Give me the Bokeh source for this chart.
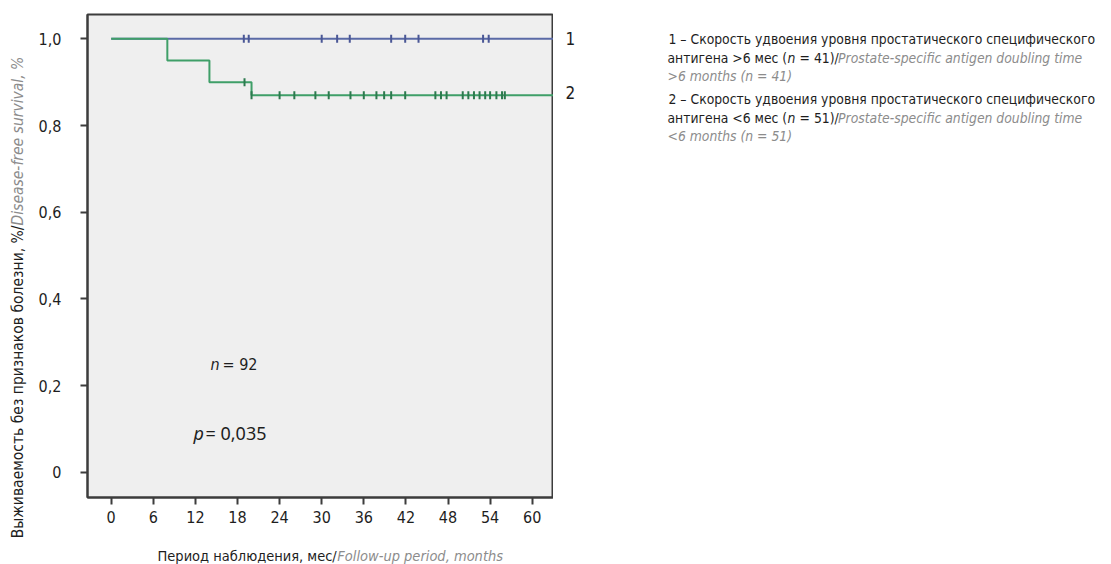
import numpy as np
from bokeh.plotting import figure
from bokeh.models import Range1d, FixedTicker, Label
from bokeh.layouts import row, column
from bokeh.embed import file_html
from bokeh.resources import INLINE

# ---------------- data ----------------
x_ticks = [0, 6, 12, 18, 24, 30, 36, 42, 48, 54, 60]
y_ticks = [0.0, 0.2, 0.4, 0.6, 0.8, 1.0]
y_tick_labels = ["0", "0,2", "0,4", "0,6", "0,8", "1,0"]

# group 1: PSA doubling time > 6 months (no events)
g1_times = [0, 64]
g1_surv = [1.0, 1.0]
g1_censor = [18.9, 19.6, 30.0, 32.2, 34.0, 39.9, 41.9, 43.8, 53.0, 53.8]

# group 2: PSA doubling time < 6 months
g2_times = [0, 8, 14, 20, 64]
g2_surv = [1.0, 0.95, 0.90, 0.87, 0.87]
g2_censor = [19.0, 20.0, 24.0, 26.1, 29.1, 31.0, 34.1, 36.0, 37.8, 38.9, 39.9,
             41.9, 46.2, 47.0, 47.8, 50.1, 50.9, 51.7, 52.5, 53.3, 54.0, 54.9,
             55.7, 56.1]

n_total = 92
p_value = "0,035"
n_groups = [41, 51]

# ---------------- layout ----------------
W, H = 1111, 564
YT_W = 32            # strip for rotated y title
L, R, T, B = 87, 553, 14, 497
MAIN_H = 535
x0_px, x60_px = 110.7, 531.7
y1_px, y0_px = 38.3, 471.8
kx = (x60_px - x0_px) / 60.0
ky = (y0_px - y1_px) / 1.0
xs, xe = (L - x0_px) / kx, (R - x0_px) / kx
ys, ye = (y0_px - B) / ky, (y0_px - T) / ky


def dx(px):
    return (px - x0_px) / kx


def dy(py):
    return (y0_px - py) / ky


FONT = "DejaVu Sans Condensed"
BLUE = "#5a6aa6"
GREEN = "#3f9f68"
GREEN_D = "#2c7a4e"
BLUE_D = "#4a5796"
GREY = "#8c8c8c"
BLACK = "#1e1e1e"

p = figure(width=R - YT_W, height=MAIN_H, x_range=Range1d(xs, xe),
           y_range=Range1d(ys, ye), title=None,
           output_backend="svg", toolbar_location=None,
           min_border_left=L - YT_W, min_border_right=0, min_border_top=T,
           min_border_bottom=MAIN_H - B,
           background_fill_color="#efefef", border_fill_color="white")
p.grid.visible = False
p.outline_line_color = "#3c3c3c"
p.outline_line_width = 2

for ax in (p.xaxis[0], p.yaxis[0]):
    ax.axis_line_color = "#3c3c3c"
    ax.axis_line_width = 2
    ax.major_tick_line_color = "#3c3c3c"
    ax.major_tick_line_width = 2
    ax.major_tick_in = 0
    ax.major_tick_out = 7
    ax.minor_tick_line_color = None
    ax.major_label_text_font = FONT
    ax.major_label_text_font_size = "16px"
    ax.major_label_text_color = BLACK

p.xaxis.ticker = FixedTicker(ticks=x_ticks)
p.xaxis.major_label_standoff = 6
p.yaxis.ticker = FixedTicker(ticks=y_ticks)
p.yaxis.major_label_overrides = {t: s for t, s in zip(y_ticks, y_tick_labels)}
p.yaxis.major_label_standoff = 19


def step_value(times, surv, t):
    idx = np.searchsorted(np.array(times), t, side="right") - 1
    return float(np.array(surv)[idx])


p.step(g1_times, g1_surv, mode="after", line_color=BLUE, line_width=2)
p.step(g2_times, g2_surv, mode="after", line_color=GREEN, line_width=2)

g1_cs = [step_value(g1_times, g1_surv, t) for t in g1_censor]
g2_cs = [step_value(g2_times, g2_surv, t) for t in g2_censor]
p.scatter(g1_censor, g1_cs, marker="dash", angle=np.pi / 2, size=8,
          line_color=BLUE_D, line_width=2)
p.scatter(g2_censor, g2_cs, marker="dash", angle=np.pi / 2, size=8,
          line_color=GREEN_D, line_width=2)


def lab(fig, x, y, text, size=16, color=BLACK, style="normal", align="left",
        baseline="middle", angle=0.0, font=FONT):
    fig.add_layout(Label(x=x, y=y, text=text, text_font=font,
                         text_font_size="%.1fpx" % size,
                         text_color=color, text_font_style=style,
                         text_align=align, text_baseline=baseline, angle=angle))


# n and p annotations (inside plot)
lab(p, dx(210), dy(364), "n", style="italic", size=16)
lab(p, dx(222), dy(364), "= %d" % n_total, size=16)
lab(p, dx(193), dy(432), "p", style="italic", size=18, font="Noto Sans")
lab(p, dx(205), dy(432), "= " + p_value, size=18, font="Noto Sans")


def text_fig(x0, x1, y_off, w, h, border_left=0):
    f = figure(width=w, height=h, x_range=Range1d(x0, x1),
               y_range=Range1d(y_off + h, y_off), output_backend="svg",
               title=None, toolbar_location=None, min_border=0,
               min_border_left=border_left,
               background_fill_color="white", border_fill_color="white")
    f.axis.visible = False
    f.grid.visible = False
    f.outline_line_color = None
    return f


# y title strip
yt = text_fig(0, YT_W, 0, YT_W, H)
lab(yt, 17, 225, "Выживаемость без признаков болезни, %/", align="right",
    angle=np.pi / 2, size=15.5)
lab(yt, 17, 225, "Disease-free survival, %", color=GREY, style="italic",
    angle=np.pi / 2, size=15.5)

# x title strip (frame aligned with the main plot frame: page x L..R)
xt = text_fig(L, R, MAIN_H, R - YT_W, H - MAIN_H, border_left=L - YT_W)
XS = 14.5
XT0 = 157
lab(xt, XT0, 555, "Период наблюдения, мес/", size=XS)
lab(xt, XT0 + 12.4 * XS, 555, "Follow-up period, months", color=GREY,
    style="italic", size=XS)

# right panel: curve labels and legend
lg = text_fig(R, W, 0, W - R, H)
lab(lg, 565, 38, "1", size=17)
lab(lg, 565, 92, "2", size=17)

LS = 13.8          # legend font size (px)
LX = 668
EM_SEG1, EM_N, EM_SP, EM_SEG2 = 8.7, 0.57, 0.3, 2.5   # approx. text widths in em
for i, (yy, sign) in enumerate([(38, ">"), (98, "<")]):
    y1, y2, y3 = yy, yy + 19, yy + 37
    lab(lg, LX, y1, "%d – Скорость удвоения уровня простатического специфического" % (i + 1), size=LS)
    x = LX - 1
    lab(lg, x, y2, "антигена %s6 мес (" % sign, size=LS)
    x += EM_SEG1 * LS
    lab(lg, x, y2, "n", style="italic", size=LS)
    x += (EM_N + EM_SP) * LS
    lab(lg, x, y2, "= %d)/" % n_groups[i], size=LS)
    x += EM_SEG2 * LS + 4
    lab(lg, x, y2, "Prostate-specific antigen doubling time", color=GREY,
        style="italic", size=LS)
    lab(lg, LX - 1, y3, "%s6 months (n = %d)" % (sign, n_groups[i]), color=GREY,
        style="italic", size=LS)

layout = row(yt, column(p, xt, spacing=0), lg, spacing=0)
open("out.html", "w").write(file_html(layout, INLINE))
